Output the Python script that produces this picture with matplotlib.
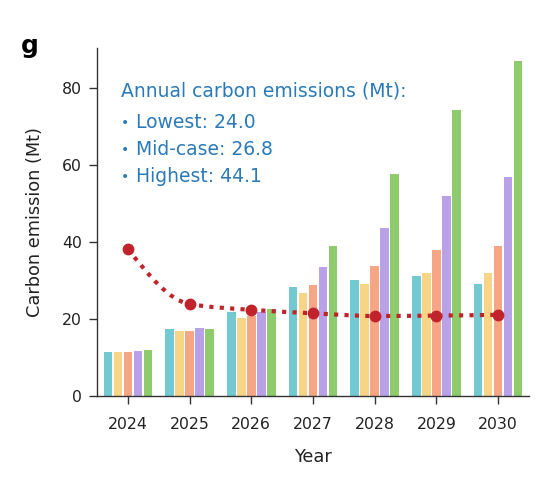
import numpy as np
import matplotlib
matplotlib.use("Agg")
import matplotlib.pyplot as plt
from matplotlib.path import Path
from matplotlib.patches import PathPatch

years = ["2024", "2025", "2026", "2027", "2028", "2029", "2030"]
s1 = [11.3, 17.2, 21.8, 28.2, 30.0, 31.0, 28.9]   # teal
s2 = [11.3, 16.8, 20.3, 26.7, 29.0, 31.8, 31.8]   # yellow
s3 = [11.3, 16.8, 20.6, 28.7, 33.7, 37.8, 39.0]   # orange
s4 = [11.6, 17.5, 21.8, 33.4, 43.6, 51.9, 56.7]   # purple
s5 = [11.8, 17.2, 22.5, 39.0, 57.5, 74.2, 87.0]   # green
annual = [38.1, 23.8, 22.3, 21.4, 20.7, 20.8, 21.0]
yticks = [0, 20, 40, 60, 80]
info_title = "Annual carbon emissions (Mt):"
info_lines = ["Lowest: 24.0", "Mid-case: 26.8", "Highest: 44.1"]

colors = ["#72C9D1", "#F7D486", "#F6A585", "#B9A1E8", "#8DCB6D"]
red = "#C1232B"
blue = "#2A7AB8"
dark = "#222222"

fig = plt.figure(figsize=(5.6, 4.79), dpi=100)
ax = fig.add_axes([97/560, 1-395.7/479, (529-97)/560, (395.7-48)/479])

x = np.arange(len(years))
pitch = 0.162
bw = 0.14
for i, (vals, c) in enumerate(zip([s1, s2, s3, s4, s5], colors)):
    ax.bar(x + (i - 2) * pitch, vals, width=bw, color=c, edgecolor="none", zorder=2)

# smooth monotone cubic curve through annual points (Bezier path)
xs = x.astype(float)
ys = np.array(annual, dtype=float)
d = np.diff(ys) / np.diff(xs)
m = np.zeros_like(ys)
for k in range(1, len(ys) - 1):
    if d[k-1] * d[k] <= 0:
        m[k] = 0.0
    else:
        m[k] = 2.0 / (1.0 / d[k-1] + 1.0 / d[k])
m[0] = (3 * d[0] - m[1]) / 2
m[-1] = (3 * d[-1] - m[-2]) / 2
verts = [(xs[0], ys[0])]
codes = [Path.MOVETO]
for k in range(len(ys) - 1):
    h = xs[k+1] - xs[k]
    verts += [(xs[k] + h/3, ys[k] + m[k]*h/3),
              (xs[k+1] - h/3, ys[k+1] - m[k+1]*h/3),
              (xs[k+1], ys[k+1])]
    codes += [Path.CURVE4] * 3
patch = PathPatch(Path(verts, codes), fill=False, edgecolor=red, lw=3.0,
                  linestyle=(0, (1.0, 1.5)), capstyle="butt", zorder=3)
ax.add_patch(patch)
ax.plot(xs, ys, linestyle="none", marker="o", ms=7.5, color=red, zorder=4)

ax.set_xlim(-0.5, 6.5)
ax.set_ylim(0, 90.3)
ax.set_xticks(x)
ax.set_xticklabels(years)
ax.set_yticks(yticks)
for s in ["top", "right"]:
    ax.spines[s].set_visible(False)
for s in ["left", "bottom"]:
    ax.spines[s].set_color("#333333")
    ax.spines[s].set_linewidth(1.0)
ax.tick_params(axis="both", length=6, width=1.0, color="#333333",
               labelsize=11.3, labelcolor=dark)
ax.tick_params(axis="x", pad=9)
ax.tick_params(axis="y", pad=5)
ax.set_xlabel("Year", fontsize=12.8, color=dark, labelpad=12)
ax.set_ylabel("Carbon emission (Mt)", fontsize=12.8, color=dark, labelpad=13)

fig.text(21/560, 1-46/479, "g", fontsize=18, fontweight="bold", color="black",
         va="center", ha="left")

fig.text(121/560, 1-91/479, info_title, fontsize=13.5, color=blue,
         va="center", ha="left")
for j, t in enumerate(info_lines):
    yy = 1 - (122.7 + 27 * j) / 479
    fig.text(121/560, yy, "•", fontsize=10, color=blue, va="center", ha="left")
    fig.text(136/560, yy, t, fontsize=13.5, color=blue, va="center", ha="left")

fig.savefig("out.png", dpi=100)
